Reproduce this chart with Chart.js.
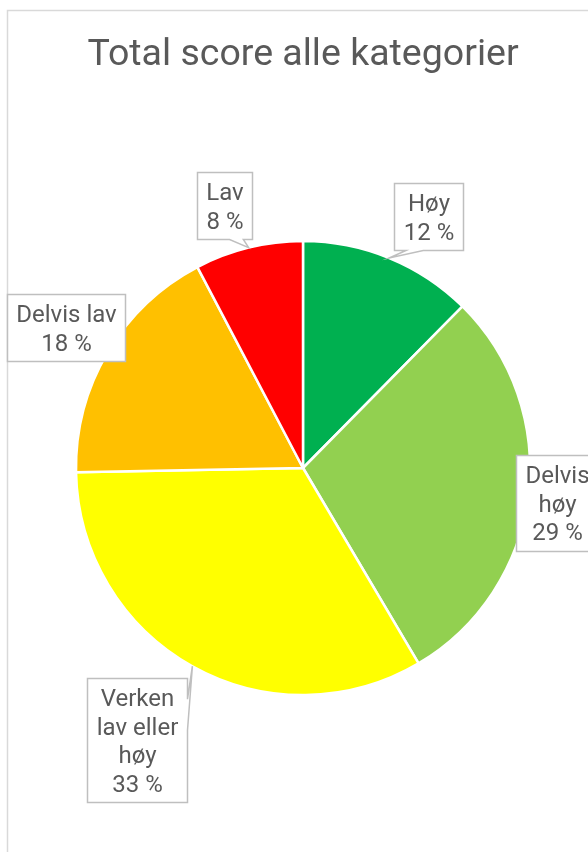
<!DOCTYPE html>
<html>
<head>
<meta charset="utf-8">
<script src="https://cdn.jsdelivr.net/npm/chart.js@4/dist/chart.umd.min.js"></script>
<style>
  html, body { margin: 0; padding: 0; background: #fff; }
</style>
</head>
<body>
<canvas id="pie" width="588" height="852"></canvas>
<script>
// Data
const categories = ["Høy", "Delvis høy", "Verken lav eller høy", "Delvis lav", "Lav"];
const labelLines = [["Høy"], ["Delvis", "høy"], ["Verken", "lav eller", "høy"], ["Delvis lav"], ["Lav"]];
const shares = [12.4, 29.1, 33.2, 17.6, 7.7];

const sliceColors = ["#00B050", "#92D050", "#FFFF00", "#FFC000", "#FF0000"];
const textColor = "#595959";

// where each callout box sits: distance (in radii) and angle turn (deg) from the slice middle
const placement = [
  { k: 1.240, turn: 4.15 },
  { k: 1.130, turn: 0.7 },
  { k: 1.404, turn: 2.2, side: "right" },
  { k: 1.212, turn: 0.1 },
  { k: 1.206, turn: -2.7 }
];

// Excel-like wedge callout: box with a pointer to (tx, ty)
function calloutPath(ctx, l, t, w, h, tx, ty, forceSide) {
  const r = l + w, b = t + h, hc = l + w / 2, vc = t + h / 2;
  const dx = tx - hc, dy = ty - vc;
  const inside = tx >= l && tx <= r && ty >= t && ty <= b;
  let side = null;
  if (!inside) {
    if (forceSide) side = forceSide;
    else if (Math.abs(dy) > Math.abs(dx * h / w)) side = dy < 0 ? "top" : "bottom";
    else side = dx < 0 ? "left" : "right";
  }
  const x1 = l + w * (dx > 0 ? 7 : 2) / 12, x2 = l + w * (dx > 0 ? 10 : 5) / 12;
  const y1 = t + h * (dy > 0 ? 7 : 2) / 12, y2 = t + h * (dy > 0 ? 10 : 5) / 12;
  ctx.beginPath();
  ctx.moveTo(l, t);
  if (side === "top") { ctx.lineTo(x1, t); ctx.lineTo(tx, ty); ctx.lineTo(x2, t); }
  ctx.lineTo(r, t);
  if (side === "right") { ctx.lineTo(r, y1); ctx.lineTo(tx, ty); ctx.lineTo(r, y2); }
  ctx.lineTo(r, b);
  if (side === "bottom") { ctx.lineTo(x2, b); ctx.lineTo(tx, ty); ctx.lineTo(x1, b); }
  ctx.lineTo(l, b);
  if (side === "left") { ctx.lineTo(l, y2); ctx.lineTo(tx, ty); ctx.lineTo(l, y1); }
  ctx.closePath();
}

// white background + chart frame
const framePlugin = {
  id: "frame",
  beforeDraw(chart) {
    const ctx = chart.ctx;
    ctx.save();
    ctx.fillStyle = "#fff";
    ctx.fillRect(0, 0, chart.width, chart.height);
    ctx.strokeStyle = "#d9d9d9";
    ctx.lineWidth = 1.5;
    ctx.strokeRect(7.5, 10.5, 700, 900);
    ctx.restore();
  }
};

// data labels in callout boxes
const calloutPlugin = {
  id: "callouts",
  afterDatasetsDraw(chart) {
    const ctx = chart.ctx;
    const meta = chart.getDatasetMeta(0);
    const total = shares.reduce((a, b) => a + b, 0);
    const lineH = 28.5;
    ctx.save();
    ctx.font = "24px Roboto";
    meta.data.forEach((arc, i) => {
      const p = arc.getProps(["x", "y", "startAngle", "endAngle", "outerRadius"], true);
      const mid = (p.startAngle + p.endAngle) / 2;
      const tx = p.x + Math.cos(mid) * p.outerRadius;
      const ty = p.y + Math.sin(mid) * p.outerRadius;
      const a = mid + placement[i].turn * Math.PI / 180;
      const cx = p.x + Math.cos(a) * p.outerRadius * placement[i].k;
      const cy = p.y + Math.sin(a) * p.outerRadius * placement[i].k;

      const pct = Math.round(shares[i] / total * 100) + " %";
      const lines = labelLines[i].concat([pct]);
      const w = Math.max(...lines.map(s => ctx.measureText(s).width)) + 18;
      const h = lines.length * lineH + 10;
      const l = Math.round(cx - w / 2) + 0.5;
      const t = Math.round(cy - h / 2) + 0.5;

      calloutPath(ctx, l, t, Math.round(w), Math.round(h), tx, ty, placement[i].side);
      ctx.fillStyle = "#fff";
      ctx.fill();
      ctx.strokeStyle = "#bfbfbf";
      ctx.lineWidth = 1.5;
      ctx.stroke();

      ctx.fillStyle = textColor;
      ctx.textAlign = "center";
      ctx.textBaseline = "alphabetic";
      lines.forEach((s, j) => {
        const lc = t + 5 + lineH * j + lineH / 2;
        ctx.fillText(s, l + Math.round(w) / 2, lc + 8.5);
      });
    });
    ctx.restore();
  }
};

const ctx = document.getElementById("pie").getContext("2d");
new Chart(ctx, {
  type: "pie",
  data: {
    labels: categories,
    datasets: [{
      data: shares,
      backgroundColor: sliceColors,
      borderColor: "#ffffff",
      borderWidth: 2.5
    }]
  },
  options: {
    responsive: false,
    devicePixelRatio: 1,
    animation: false,
    radius: 227,
    layout: { padding: { left: 18, right: 0, top: 0, bottom: 0 } },
    plugins: {
      legend: { display: false },
      tooltip: { enabled: false },
      title: {
        display: true,
        text: "Total score alle kategorier",
        color: textColor,
        font: { family: "Roboto", size: 37.5, weight: "normal", lineHeight: 1.2 },
        padding: { top: 33.3, bottom: 5.7 }
      }
    }
  },
  plugins: [framePlugin, calloutPlugin]
});
</script>
</body>
</html>
